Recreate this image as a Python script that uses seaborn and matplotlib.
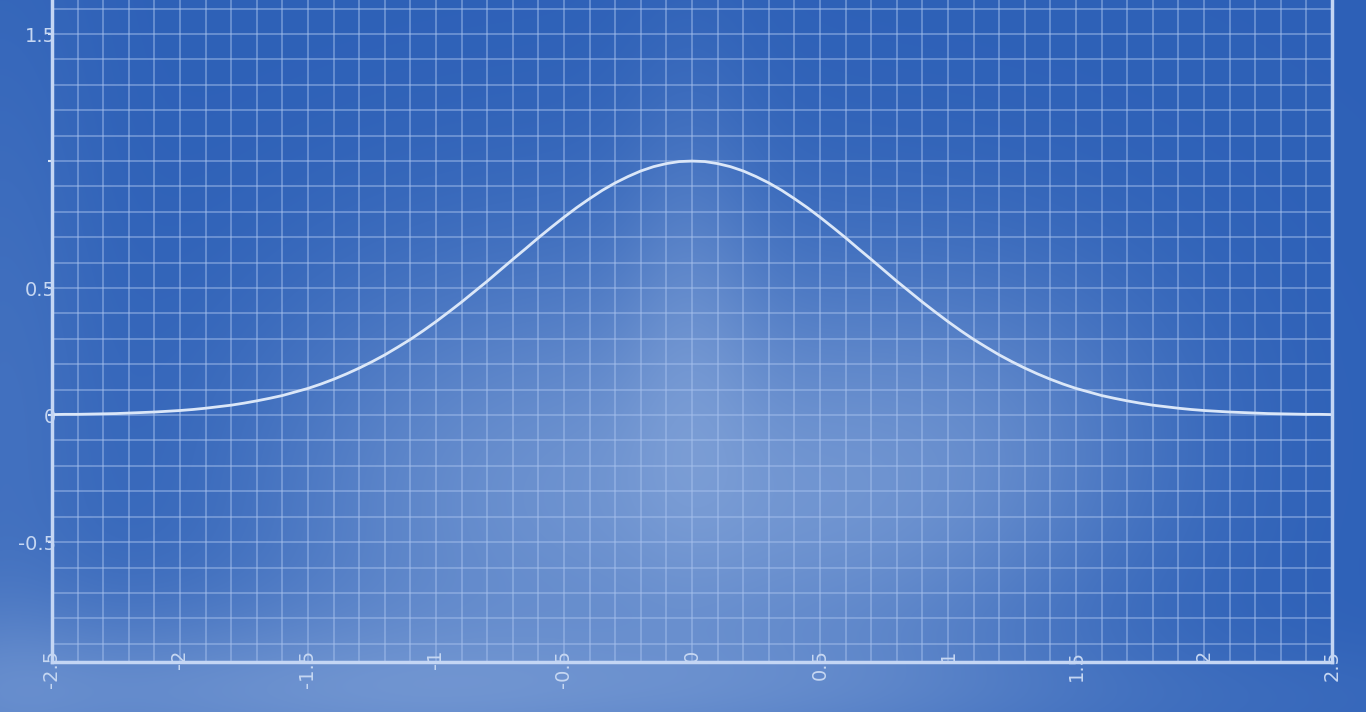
import numpy as np
import pandas as pd
import matplotlib
matplotlib.use("Agg")
import matplotlib.pyplot as plt
from matplotlib.ticker import MultipleLocator, FixedLocator
import seaborn as sns

# Curve values (x step 0.05, symmetric around 0)
x_vals = [round(-2.5 + 0.05 * i, 2) for i in range(101)]
half_vals = [0.002, 0.003, 0.003, 0.004, 0.005, 0.006, 0.008, 0.010, 0.012, 0.015,
             0.018, 0.022, 0.027, 0.033, 0.039, 0.047, 0.056, 0.066, 0.077, 0.091,
             0.105, 0.122, 0.141, 0.162, 0.185, 0.210, 0.237, 0.267, 0.298, 0.332,
             0.368, 0.406, 0.445, 0.486, 0.527, 0.570, 0.613, 0.655, 0.698, 0.739,
             0.779, 0.817, 0.852, 0.885, 0.914, 0.939, 0.961, 0.978, 0.990, 0.998]
y_vals = half_vals + [1.000] + half_vals[::-1]

x_ticks = [-2.5, -2, -1.5, -1, -0.5, 0, 0.5, 1, 1.5, 2, 2.5]
x_labels = ["-2.5", "-2", "-1.5", "-1", "-0.5", "0", "0.5", "1", "1.5", "2", "2.5"]
y_ticks = [-0.5, 0, 0.5, 1, 1.5]
y_labels = ["-0.5", "0", "0.5", "", "1.5"]

df = pd.DataFrame({"x": x_vals, "y": y_vals})

sns.set_style("dark")
plt.rcParams['font.family'] = ['DejaVu Sans']

W, H = 1366, 712
fig = plt.figure(figsize=(W / 100, H / 100), dpi=100)

# blueprint background with a soft light plume
yy, xx = np.mgrid[0:H, 0:W].astype(float)
def blob(cx, cy, sx, sy, k):
    return k * np.exp(-(((xx - cx) / sx) ** 2 + ((yy - cy) / sy) ** 2) / 2)
s = (blob(640, 470, 230, 170, 0.32) + blob(690, 290, 50, 160, 0.14)
     + blob(990, 430, 150, 130, 0.20) + blob(120, 690, 320, 70, 0.24)
     + blob(700, 700, 520, 45, 0.14) + blob(0, 420, 70, 320, 0.12)
     + blob(420, 520, 160, 160, 0.12) + blob(840, 560, 160, 120, 0.12))
s = np.clip(s, 0, 0.75)[..., None]
base = np.array([0.18, 0.38, 0.72])
light = np.array([0.78, 0.85, 0.95])
img = base * (1 - s) + light * s
bg = fig.add_axes([0, 0, 1, 1], zorder=0)
bg.imshow(img, aspect="auto", interpolation="bilinear")
bg.axis("off")

ax = fig.add_axes([52 / W, 50 / H, 1280 / W, 662 / H], zorder=1)
ax.set_facecolor("none")

grid_c = "#a8c2ee"
line_c = "#dbe7f8"
text_c = "#c6d7f2"

sns.lineplot(data=df, x="x", y="y", ax=ax, color=line_c, linewidth=2.0)

ax.set_xlim(-2.5, 2.5)
ax.set_ylim(-0.972, 1.634)
ax.xaxis.set_major_locator(FixedLocator(x_ticks))
ax.yaxis.set_major_locator(FixedLocator(y_ticks))
ax.xaxis.set_minor_locator(MultipleLocator(0.1))
ax.yaxis.set_minor_locator(MultipleLocator(0.1))
ax.set_xticklabels(x_labels, rotation=90, va="top")
ax.set_yticklabels(y_labels)
ax.grid(which="both", color=grid_c, alpha=0.5, linewidth=1.3)
ax.set_axisbelow(True)

ax.tick_params(axis="x", which="both", length=0, pad=-9, labelsize=14, labelcolor=text_c)
ax.tick_params(axis="y", which="major", length=3, width=1.5, color=line_c,
               pad=-6, labelsize=14, labelcolor=text_c, left=True)
ax.tick_params(axis="y", which="minor", length=0)
for side in ["left", "right", "bottom"]:
    ax.spines[side].set_visible(True)
    ax.spines[side].set_color("#c4d6f4")
    ax.spines[side].set_linewidth(2.5)
ax.spines["top"].set_visible(False)
ax.set_xlabel("")
ax.set_ylabel("")

fig.savefig("out.png", dpi=100)
